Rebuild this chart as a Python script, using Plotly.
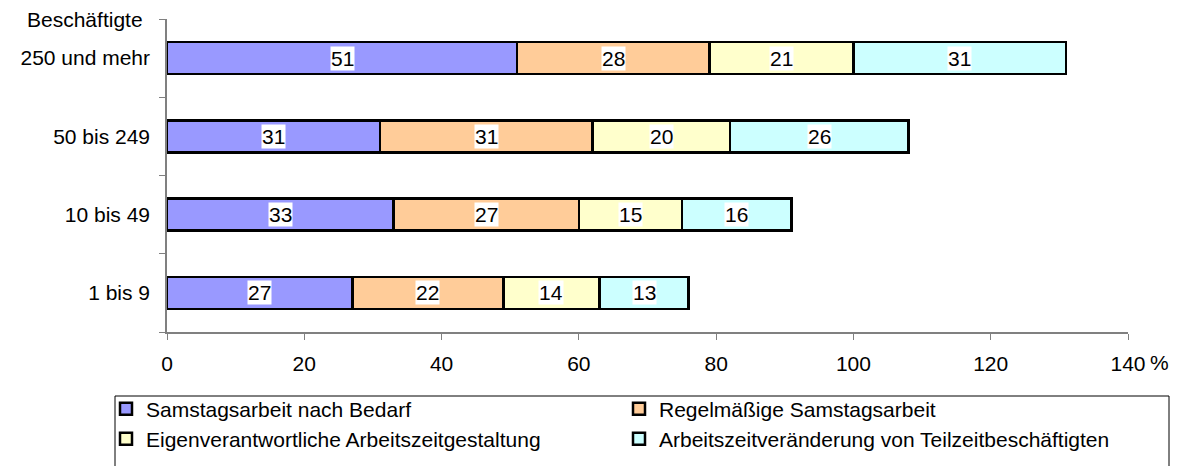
import plotly.graph_objects as go

# Betriebsgroesse (Beschaeftigte), von unten nach oben
groups = ["1 bis 9", "10 bis 49", "50 bis 249", "250 und mehr"]

series_names = [
    "Samstagsarbeit nach Bedarf",
    "Regelmäßige Samstagsarbeit",
    "Eigenverantwortliche Arbeitszeitgestaltung",
    "Arbeitszeitveränderung von Teilzeitbeschäftigten",
]
samstag_bedarf = [27, 33, 31, 51]
samstag_regel = [22, 27, 31, 28]
eigenverantwortlich = [14, 15, 20, 21]
teilzeit = [13, 16, 26, 31]

colors = ["#9999FF", "#FFCC99", "#FFFFCC", "#CCFFFF"]
x_ticks = [0, 20, 40, 60, 80, 100, 120, 140]

# the page body has an 8px margin, so work in page px and shift
OFF = 8
W, H = 1181 - OFF, 466 - OFF
L, R, T, B = 167 - OFF, 1128 - OFF, 19 - OFF, 332 - OFF   # plot area

def px_x(p):
    return (p - OFF - L) / (R - L)

def px_y(p):
    return (B - (p - OFF)) / (B - T)

FONT = "Liberation Sans, Arial, sans-serif"
FS = 21

fig = go.Figure()
values = [samstag_bedarf, samstag_regel, eigenverantwortlich, teilzeit]
legends = ["legend", "legend", "legend2", "legend2"]
for name, vals, col, lg in zip(series_names, values, colors, legends):
    fig.add_trace(go.Bar(
        y=groups, x=vals, name=name, orientation="h",
        marker=dict(color=col, line=dict(color="black", width=2.5)),
        width=0.41, legend=lg,
    ))

# value labels in white boxes at segment centres
for gi, g in enumerate(groups):
    base = 0
    for vals in values:
        v = vals[gi]
        fig.add_annotation(
            x=base + v / 2, y=g, text=str(v), showarrow=False,
            bgcolor="white", borderpad=0,
            font=dict(family=FONT, size=FS, color="black"),
        )
        base += v

fig.add_annotation(x=px_x(85), y=px_y(19), xref="paper", yref="paper",
                   text="Beschäftigte", showarrow=False,
                   xanchor="center", yanchor="middle",
                   font=dict(family=FONT, size=FS, color="black"))
fig.add_annotation(x=140, y=px_y(362), xref="x", yref="paper",
                   text="%", showarrow=False, xanchor="left", yanchor="middle",
                   xshift=20,
                   font=dict(family=FONT, size=FS, color="black"))

# legend frame
fig.add_shape(type="rect", xref="paper", yref="paper",
              x0=px_x(115), x1=px_x(1169), y0=px_y(396), y1=px_y(480),
              line=dict(color="black", width=1), fillcolor="rgba(0,0,0,0)")

leg_common = dict(orientation="h", entrywidth=468, entrywidthmode="pixels",
                  xanchor="left", yanchor="middle", bgcolor="rgba(0,0,0,0)",
                  font=dict(family=FONT, size=FS, color="black"),
                  itemclick=False, itemdoubleclick=False)

fig.update_layout(
    width=W, height=H,
    margin=dict(l=L, r=W - R, t=T, b=H - B, autoexpand=False),
    paper_bgcolor="white", plot_bgcolor="white",
    barmode="stack", bargap=0.59,
    font=dict(family=FONT, size=FS, color="black"),
    xaxis=dict(range=[0, 140], tickvals=x_ticks, ticktext=[str(t) for t in x_ticks],
               showgrid=False, zeroline=False, showline=True, linecolor="#808080",
               linewidth=1.5, ticks="outside", ticklen=6, tickcolor="#808080",
               ticklabelstandoff=6, fixedrange=True),
    yaxis=dict(categoryorder="array", categoryarray=groups, showgrid=False,
               showline=True, linecolor="#808080", linewidth=1.5,
               ticks="outside", ticklen=6, tickcolor="#808080",
               tickson="boundaries", ticklabelstandoff=11, fixedrange=True),
    legend=dict(x=px_x(106), y=px_y(409), traceorder="normal", **leg_common),
    legend2=dict(x=px_x(106), y=px_y(439), traceorder="normal", **leg_common),
)

fig.write_html("out.html")
